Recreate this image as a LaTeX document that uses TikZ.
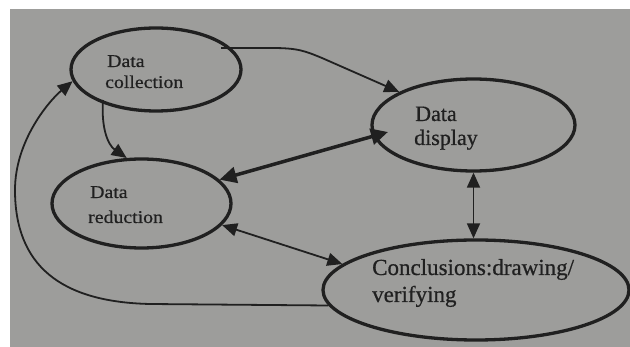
\documentclass[tikz,border=0pt]{standalone}
\usepackage{fontspec}
\setmainfont[FakeBold=0.6]{Liberation Serif}
\newfontfamily\widefont[FakeStretch=1.1,FakeBold=0.6]{Liberation Serif}
\usetikzlibrary{arrows.meta,shapes.geometric,calc}
\definecolor{paper}{RGB}{157,157,155}
\definecolor{ink}{RGB}{32,32,32}
\begin{document}
\begin{tikzpicture}[x=1pt,y=-1pt,
  oval/.style={ellipse,draw=ink,line width=3.3pt,inner sep=0pt},
  lbl/.style={anchor=base west,inner sep=0pt,text=ink},
  smalltxt/.style={font=\widefont\fontsize{18}{21}\selectfont},
  midtxt/.style={font=\fontsize{22}{26}\selectfont},
  bigtxt/.style={font=\fontsize{23}{27}\selectfont},
  conn/.style={draw=ink,line width=1.8pt,-{Triangle[length=15pt,width=13pt]}},
  both/.style={draw=ink,line width=1.8pt,{Triangle[length=15pt,width=13pt]}-{Triangle[length=15pt,width=13pt]}},
  heavy/.style={draw=ink,line width=3.5pt,{Triangle[length=17pt,width=16pt]}-{Triangle[length=17pt,width=16pt]}}]
\useasboundingbox (0,0) rectangle (630,347);
\clip (0,0) rectangle (630,347);
\fill[white] (0,0) rectangle (630,347);
\fill[paper] (10,9) rectangle (630,347);

\node[oval,minimum width=170pt,minimum height=83pt] (col) at (156,69.5) {};
\node[oval,minimum width=203pt,minimum height=92pt] (disp) at (473.5,125) {};
\node[oval,minimum width=179pt,minimum height=89pt] (red) at (141.5,203.5) {};
\node[oval,minimum width=306pt,minimum height=100pt] (conc) at (476,290) {};

\node[lbl,smalltxt] (colT1) at (107,67) {Data};
\node[lbl,smalltxt] (colT2) at (105,88) {collection};
\node[lbl,smalltxt] (redT1) at (90,198) {Data};
\node[lbl,smalltxt] (redT2) at (88,223) {reduction};
\node[lbl,midtxt] (dispT1) at (415,121) {Data};
\node[lbl,midtxt] (dispT2) at (414,145) {display};
\node[lbl,bigtxt] (concT1) at (372,275) {Conclusions:drawing/};
\node[lbl,bigtxt] (concT2) at (372,302) {verifying};

\coordinate (colA) at ($(col.center)+(65,-21.5)$);
\coordinate (colB) at ($(col.center)+(-53,30.5)$);
\coordinate (dispIn) at ($(disp.center)+(-85.5,7)$);

\draw[conn] (colA) -- (272,48) .. controls (298,48) and (305,51) .. (322,58) -- (disp.156);
\draw[conn] (colB) .. controls (101,128) and (108,145) .. (red.108);
\draw[heavy] (red.17) -- (dispIn);
\draw[both] (red.-15) -- (conc.169);
\draw[both] (disp.south) -- (disp.south |- conc.north);
\draw[conn] (conc.186) -- (150,304) .. controls (60,302) and (15,265) .. (15,190) .. controls (15,140) and (50,100) .. (col.188);
\end{tikzpicture}
\end{document}
